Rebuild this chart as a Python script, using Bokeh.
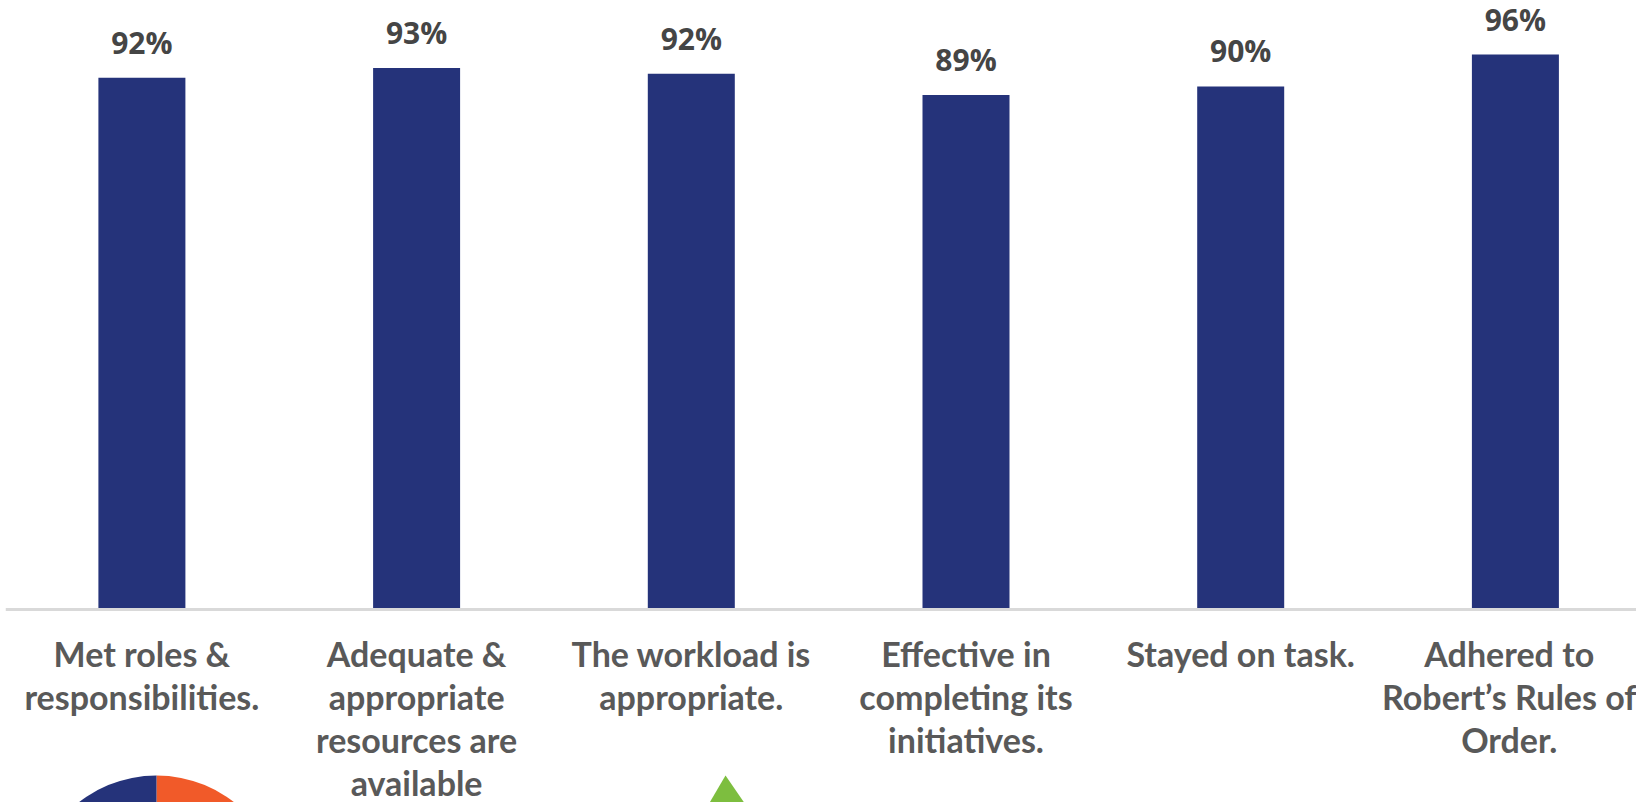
from bokeh.embed import file_html
from bokeh.resources import INLINE
from bokeh.plotting import figure
from bokeh.models import ColumnDataSource, Range1d, FixedTicker, LabelSet
from bokeh.core.properties import value
import math

# --- data
categories = ["Met roles &\nresponsibilities.",
              "Adequate &\nappropriate\nresources are\navailable",
              "The workload is\nappropriate.",
              "Effective in\ncompleting its\ninitiatives.",
              "Stayed on task.",
              "Adhered to\nRobert\u2019s Rules of\nOrder."]
values = [92.0, 93.7, 92.7, 89.0, 90.5, 96.0]
labels = ["92%", "93%", "92%", "89%", "90%", "96%"]
pie_colors = ["#F15A29", "#25337A"]
pie_shares = [50, 50]

W, H = 1636, 802
LEFT = 5
SLOT = 274.7
BASE_PX = 609
PCT_PX = 5.78
FIRST_PX = 141.4

xs = list(range(len(categories)))
source = ColumnDataSource(dict(x=xs, top=values, label=labels))

p = figure(width=W, height=H, output_backend="svg", toolbar_location=None,
           x_range=Range1d((LEFT - FIRST_PX) / SLOT, (W - FIRST_PX) / SLOT),
           y_range=Range1d(-(H - BASE_PX) / PCT_PX, BASE_PX / PCT_PX),
           min_border_left=LEFT, min_border_right=0, min_border_top=0,
           min_border_bottom=0)
p.outline_line_color = None
p.grid.visible = False
p.yaxis.visible = False
p.background_fill_color = "white"

p.vbar(x="x", top="top", bottom=0, width=87 / SLOT, source=source,
       fill_color="#25337A", line_color=None)

p.add_layout(LabelSet(x="x", y="top", text="label", source=source,
                      text_align="center", text_baseline="alphabetic", y_offset=24,
                      text_font=value("Open Sans"), text_font_size="30px",
                      text_font_style="bold", text_color="#454545"))

# cropped pie below the chart
pie_x = (156 - FIRST_PX) / SLOT
pie_y = -(901 - BASE_PX) / PCT_PX
start = math.pi / 2
for share, color in zip(pie_shares, pie_colors):
    sweep = 2 * math.pi * share / sum(pie_shares)
    p.wedge(x=[pie_x], y=[pie_y], radius=126, radius_units="screen",
            start_angle=start - sweep, end_angle=start,
            fill_color=color, line_color=None)
    start -= sweep

# cropped green tree icon below the chart
tree_x = [(px - FIRST_PX) / SLOT for px in (708, 725, 745)]
tree_y = [-(py - BASE_PX) / PCT_PX for py in (804, 775, 804)]
p.patch(tree_x, tree_y, fill_color="#7DBE3F", line_color=None)

ax = p.xaxis[0]
ax.fixed_location = 0
ax.ticker = FixedTicker(ticks=xs)
ax.major_label_overrides = {i: c for i, c in zip(xs, categories)}
ax.major_tick_line_color = None
ax.minor_tick_line_color = None
ax.axis_line_color = "#D9D9D9"
ax.axis_line_width = 3
ax.major_label_standoff = 17
ax.major_label_text_font = "Lato"
ax.major_label_text_font_style = "bold"
ax.major_label_text_font_size = "34px"
ax.major_label_text_color = "#595959"
ax.major_label_text_line_height = 1.05

open("out.html", "w").write(file_html(p, INLINE))
